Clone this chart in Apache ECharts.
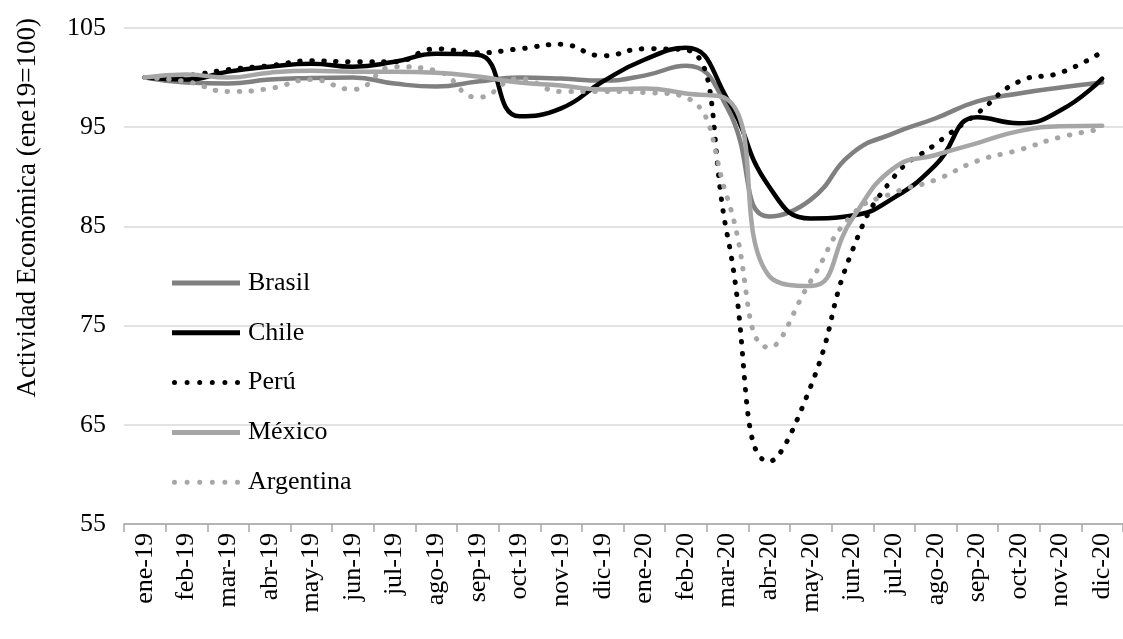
<!DOCTYPE html>
<html>
<head>
<meta charset="utf-8">
<script src="https://cdn.jsdelivr.net/npm/echarts@6/dist/echarts.min.js"></script>
<style>
  html, body { margin: 0; padding: 0; background: #ffffff; }
  #chart { width: 1123px; height: 639px; }
</style>
</head>
<body>
<div id="chart"></div>
<script>
// Índice de actividad económica mensual (ene-19 = 100)
const months = ['ene-19','feb-19','mar-19','abr-19','may-19','jun-19','jul-19','ago-19','sep-19','oct-19','nov-19','dic-19',
                'ene-20','feb-20','mar-20','abr-20','may-20','jun-20','jul-20','ago-20','sep-20','oct-20','nov-20','dic-20'];

const brasil    = [100, 99.5, 99.4, 99.8, 99.95, 100.0, 99.4, 99.1, 99.6, 100.0, 99.9, 99.7,
                   100.2, 101.2, 96.9, 86.0, 87.7, 92.4, 94.4, 95.9, 97.6, 98.4, 99.0, 99.5];
const chile     = [100, 99.8, 100.6, 101.1, 101.4, 101.1, 101.6, 102.4, 102.3, 96.1, 96.9, 99.6,
                   101.8, 103.0, 97.8, 89.0, 85.8, 86.1, 87.9, 91.2, 96.0, 95.4, 96.7, 99.9];
const peru      = [100, 100.2, 100.8, 101.2, 101.7, 101.6, 101.6, 102.9, 102.5, 102.9, 103.35, 102.2,
                   102.9, 102.8, 84.0, 61.3, 68.9, 82.6, 90.0, 93.3, 96.4, 99.6, 100.5, 102.6];
const mexico    = [100, 100.3, 100.0, 100.5, 100.7, 100.6, 100.6, 100.5, 100.1, 99.5, 99.2, 98.8,
                   98.9, 98.4, 97.8, 80.0, 79.0, 85.8, 90.9, 92.2, 93.4, 94.6, 95.1, 95.15];
const argentina = [100, 99.6, 98.6, 98.9, 99.8, 98.8, 101.1, 100.7, 98.0, 99.9, 98.6, 98.6,
                   98.5, 98.0, 87.8, 72.8, 79.5, 86.2, 88.4, 89.7, 91.6, 92.7, 94.0, 94.8];

const FONT = '"Liberation Serif", "Times New Roman", serif';
const DOTS = [0.5, 11.5];

// legend keys: a thick bar for solid lines, a row of six dots for dotted lines
const SOLID_KEY = 'path://M0,0 H68 V5 H0 Z';
let dotPath = '';
for (let i = 0; i < 6; i++) {
  const x0 = i * 12.6;
  dotPath += 'M' + x0 + ',2.5 A2.5,2.5 0 1 1 ' + (x0 + 5) + ',2.5 A2.5,2.5 0 1 1 ' + x0 + ',2.5 Z ';
}
const DOTTED_KEY = 'path://' + dotPath;

function line(name, data, color, dotted) {
  return {
    name: name,
    type: 'line',
    data: data,
    smooth: 0.5,
    symbol: 'none',
    showSymbol: false,
    itemStyle: { color: color },
    lineStyle: {
      color: color,
      width: dotted ? 5 : 4.5,
      type: dotted ? DOTS : 'solid',
      cap: 'round'
    },
    emphasis: { disabled: true }
  };
}

const chart = echarts.init(document.getElementById('chart'), null, { renderer: 'canvas' });
chart.setOption({
  animation: false,
  backgroundColor: '#ffffff',
  grid: { left: 124, right: -11, top: 28, bottom: 115, containLabel: false },
  legend: {
    orient: 'vertical',
    left: 172,
    top: 268,
    padding: 0,
    itemWidth: 68,
    itemHeight: 5,
    itemGap: 19.8,
    selectedMode: false,
    itemStyle: { borderWidth: 0 },
    textStyle: { fontFamily: FONT, fontSize: 26, color: '#000', lineHeight: 30, padding: [0, 0, 0, 3] },
    data: [
      { name: 'Brasil', icon: SOLID_KEY },
      { name: 'Chile', icon: SOLID_KEY },
      { name: 'Perú', icon: DOTTED_KEY },
      { name: 'México', icon: SOLID_KEY },
      { name: 'Argentina', icon: DOTTED_KEY }
    ]
  },
  xAxis: {
    type: 'category',
    data: months,
    boundaryGap: true,
    axisLine: { lineStyle: { color: '#a6a6a6', width: 1.5 } },
    axisTick: { show: true, length: 8, lineStyle: { color: '#a6a6a6', width: 1.5 } },
    axisLabel: { rotate: 90, margin: 9, fontFamily: FONT, fontSize: 26, color: '#000', interval: 0 }
  },
  yAxis: {
    type: 'value',
    min: 55,
    max: 105,
    interval: 10,
    axisLine: { show: false },
    axisTick: { show: false },
    splitLine: { lineStyle: { color: '#d9d9d9', width: 1.5 } },
    axisLabel: { margin: 18, fontFamily: FONT, fontSize: 26, color: '#000' }
  },
  graphic: [{
    type: 'text',
    left: 14,
    top: 18,
    rotation: Math.PI / 2,
    style: {
      text: 'Actividad Económica (ene19=100)',
      font: '27px ' + FONT,
      fill: '#000'
    }
  }],
  series: [
    line('Brasil', brasil, '#808080', false),
    line('Chile', chile, '#000000', false),
    line('Perú', peru, '#000000', true),
    line('México', mexico, '#a6a6a6', false),
    line('Argentina', argentina, '#a6a6a6', true)
  ]
});
</script>
</body>
</html>
